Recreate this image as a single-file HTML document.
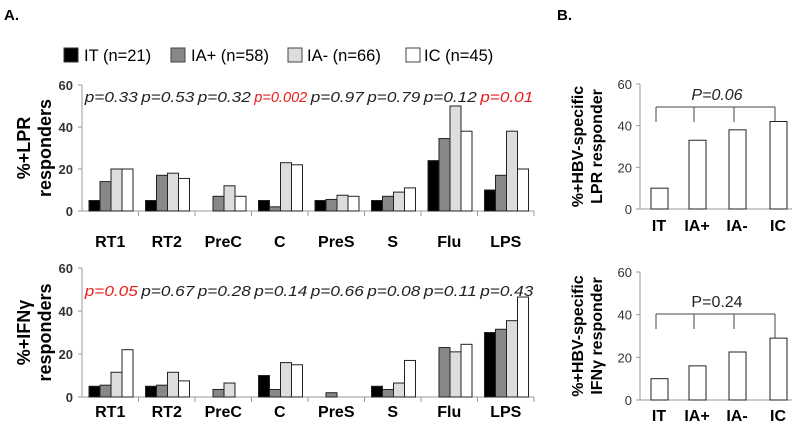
<!DOCTYPE html>
<html><head><meta charset="utf-8">
<style>
html,body{margin:0;padding:0;background:#fff;}
svg{display:block;font-family:"Liberation Sans",sans-serif;}
</style></head>
<body>
<svg id="c" width="800" height="430" viewBox="0 0 800 430">
<text x="4" y="20" font-size="15" font-weight="bold">A.</text>
<text x="557" y="20" font-size="15" font-weight="bold">B.</text>
<g>
<rect x="64" y="48" width="14" height="14" fill="#000" stroke="#333"/>
<text x="84" y="61" font-size="16.5">IT (n=21)</text>
<rect x="171" y="48" width="14" height="14" fill="#888" stroke="#444"/>
<text x="191" y="61" font-size="16.5">IA+ (n=58)</text>
<rect x="288" y="48" width="14" height="14" fill="#ddd" stroke="#444"/>
<text x="307" y="61" font-size="16.5">IA- (n=66)</text>
<rect x="406" y="48" width="14" height="14" fill="#fff" stroke="#444"/>
<text x="424" y="61" font-size="16.5">IC (n=45)</text>
</g>
</svg>
<script>
const categories=["RT1","RT2","PreC","C","PreS","S","Flu","LPS"];
const lprIT=[5,5,0,5,5,5,24,10];
const lprIAp=[14,17,7,2,5.5,7,34.5,17];
const lprIAm=[20,18,12,23,7.5,9,50,38];
const lprIC=[20,15.5,7,22,7,11,38,20];
const lprP=["p=0.33","p=0.53","p=0.32","p=0.002","p=0.97","p=0.79","p=0.12","p=0.01"];
const lprRed=[false,false,false,true,false,false,false,true];
const ifnIT=[5,5,0,10,0,5,0,30];
const ifnIAp=[5.5,5.5,3.5,3.5,2,3.5,23,31.5];
const ifnIAm=[11.5,11.5,6.5,16,0,6.5,21,35.5];
const ifnIC=[22,7.5,0,15,0,17,24.5,46.5];
const ifnP=["p=0.05","p=0.67","p=0.28","p=0.14","p=0.66","p=0.08","p=0.11","p=0.43"];
const ifnRed=[true,false,false,false,false,false,false,false];
const yTicks=[0,20,40,60];
const bCategories=["IT","IA+","IA-","IC"];
const bLpr=[10,33,38,42];
const bIfn=[10,16,22.5,29];
const bLprP="P=0.06";
const bIfnP="P=0.24";

const NS="http://www.w3.org/2000/svg";
const svg=document.getElementById('c');
function mk(tag,attrs,txt){const e=document.createElementNS(NS,tag);for(const k in attrs)e.setAttribute(k,attrs[k]);if(txt!==undefined)e.textContent=txt;svg.appendChild(e);return e;}
const fills=["#000","#888","#ddd","#fff"];
const gnames=["it","ia-plus","ia-minus","ic"];

function panelA(opt){
  const x0=82,gw=56.5,yScale=v=>opt.y0-(v/60)*(opt.y0-opt.y60);
  let e=mk('line',{x1:x0,y1:opt.y60,x2:x0,y2:opt.y0,stroke:"#999"});
  
  e=mk('line',{x1:x0,y1:opt.y0,x2:x0+gw*8,y2:opt.y0,stroke:"#999"});
  
  yTicks.forEach(t=>{
    const y=yScale(t);
    let l=mk('line',{x1:x0-4,y1:y,x2:x0,y2:y,stroke:"#999"});
    
    let tx=mk('text',{x:x0-9,y:y+5,"font-size":13,"font-weight":"bold","text-anchor":"end",fill:"#333"},t);
    
  });
  categories.forEach((c,i)=>{
    const gx=x0+gw*i;
    let l=mk('line',{x1:gx+gw,y1:opt.y0,x2:gx+gw,y2:opt.y0+5,stroke:"#999"});
    
    opt.series.forEach((s,j)=>{
      const v=s[i];if(v<=0)return;
      const y=yScale(v);
      let r=mk('rect',{x:gx+7+j*11,y:y,width:11,height:opt.y0-y,fill:fills[j],stroke:"#222","stroke-width":1});
      
    });
    let t=mk('text',{x:gx+gw/2,y:opt.labelY,"font-size":16,"font-weight":"bold","text-anchor":"middle"},c);
    
    let p=mk('text',{x:gx+gw/2+1,y:opt.pY,"font-size":15,"font-style":"italic","text-anchor":"middle","textLength":53,"lengthAdjust":"spacingAndGlyphs",fill:opt.red[i]?"#e8201c":"#222"},opt.pv[i]);
    
  });
  const cy=(opt.y0+opt.y60)/2;
  let t1=mk('text',{x:0,y:0,"font-size":18,"font-weight":"bold","text-anchor":"middle",transform:`translate(30,${cy}) rotate(-90)`},opt.t1);
  
  let t2=mk('text',{x:0,y:0,"font-size":18,"font-weight":"bold","text-anchor":"middle",transform:`translate(51,${cy}) rotate(-90)`},"responders");
  
}
panelA({p:"lpr",y60:85,y0:211,series:[lprIT,lprIAp,lprIAm,lprIC],pv:lprP,red:lprRed,labelY:247,pY:102,t1:"%+LPR"});
panelA({p:"ifn",y60:268,y0:397,series:[ifnIT,ifnIAp,ifnIAm,ifnIC],pv:ifnP,red:ifnRed,labelY:417,pY:296,t1:"%+IFNγ"});

function panelB(opt){
  const x0=640,x1=792,yScale=v=>opt.y0-(v/60)*(opt.y0-opt.y60);
  const cx=[659,697,737,778];
  let e=mk('line',{x1:x0,y1:opt.y60,x2:x0,y2:opt.y0,stroke:"#999"});
  
  e=mk('line',{x1:x0,y1:opt.y0,x2:x1,y2:opt.y0,stroke:"#999"});
  
  yTicks.forEach(t=>{
    const y=yScale(t);
    let l=mk('line',{x1:x0-4,y1:y,x2:x0,y2:y,stroke:"#999"});
    
    let tx=mk('text',{x:x0-8,y:y+5,"font-size":13,"text-anchor":"end",fill:"#333"},t);
    
  });
  bCategories.forEach((c,i)=>{
    const y=yScale(opt.vals[i]);
    let r=mk('rect',{x:cx[i]-8,y:y,width:17,height:opt.y0-y,fill:"#fff",stroke:"#222"});
    
    let t=mk('text',{x:cx[i],y:opt.labelY,"font-size":16,"font-weight":"bold","text-anchor":"middle"},c);
    
    const bot=i===3?y:opt.brY+15;
    let l=mk('line',{x1:cx[i]-3,y1:opt.brY,x2:cx[i]-3,y2:bot,stroke:"#444"});
    
  });
  let b=mk('line',{x1:cx[0]-3,y1:opt.brY,x2:cx[3]-3,y2:opt.brY,stroke:"#444"});
  
  let p=mk('text',{x:717,y:opt.brY-7,"font-size":16,"font-style":opt.italic?"italic":"normal","text-anchor":"middle",fill:"#222"},opt.pv);
  
  const cy=(opt.y0+opt.y60)/2;
  let t1=mk('text',{x:0,y:0,"font-size":16,"font-weight":"bold","text-anchor":"middle",transform:`translate(583,${cy}) rotate(-90)`},"%+HBV-specific");
  
  let t2=mk('text',{x:0,y:0,"font-size":16,"font-weight":"bold","text-anchor":"middle",transform:`translate(602,${cy}) rotate(-90)`},opt.t2);
  
}
panelB({p:"lpr",y60:84,y0:209,vals:bLpr,pv:bLprP,italic:true,brY:107,labelY:231,t2:"LPR responder"});
panelB({p:"ifn",y60:272,y0:400,vals:bIfn,pv:bIfnP,italic:false,brY:314,labelY:421,t2:"IFNγ responder"});
</script>
</body></html>
